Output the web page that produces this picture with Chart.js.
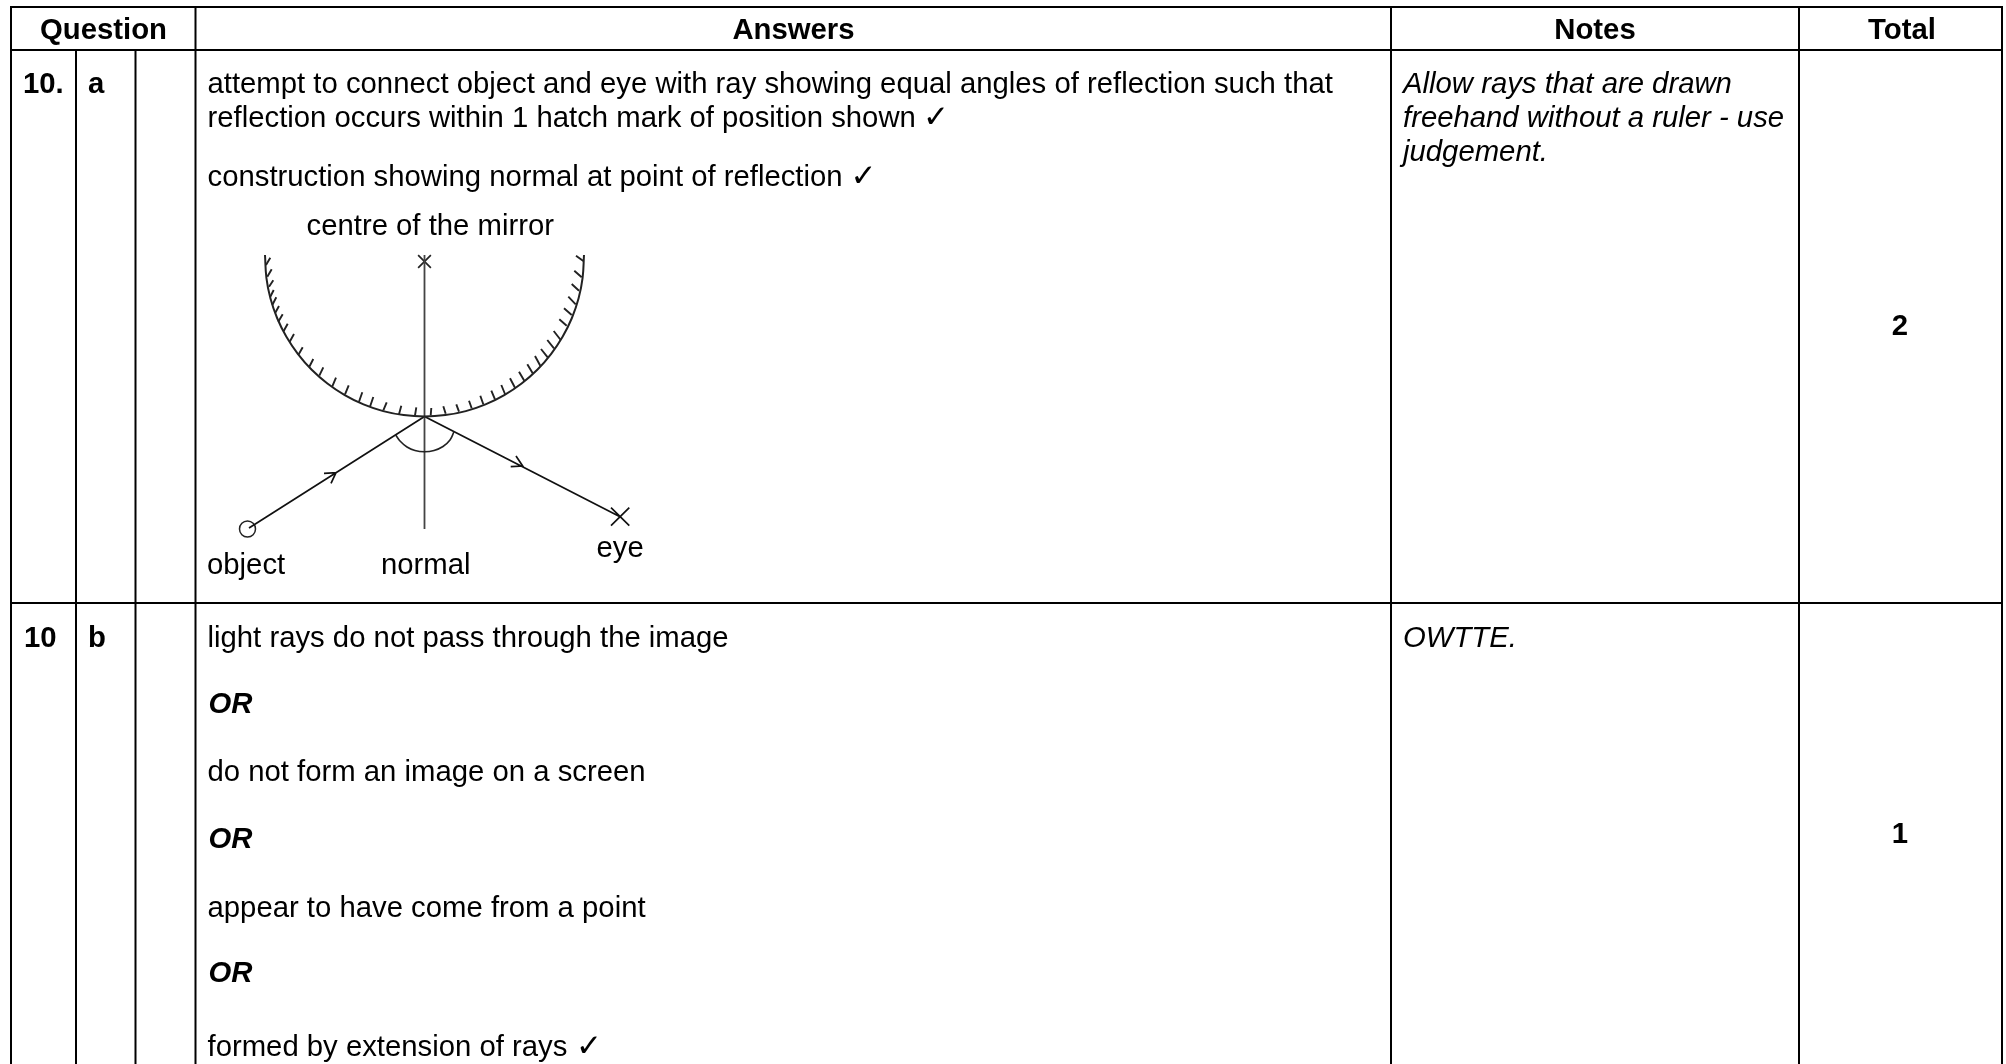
<!DOCTYPE html>
<html><head><meta charset="utf-8">
<style>html,body{margin:0;padding:0;background:#fff}canvas{display:block}</style>
<script src="https://cdn.jsdelivr.net/npm/chart.js@4"></script>
</head><body><canvas id="c" width="2006" height="1064"></canvas>
<script>
// Table rules: [x1,y1,x2,y2]
const tableRules=[[10,7,2003,7],[10,50,2003,50],[10,603,2003,603],
 [11,6,11,1064],[76,50,76,1064],[135.5,50,135.5,1064],[195.5,6,195.5,1064],[1391,6,1391,1064],[1799,6,1799,1064],[2002,6,2002,1064]];
// Mirror curve points
const mirrorArc=[[265,255],[266.4,277.8],[270.4,298.3],[277.1,318],[286.4,336.8],[298,354.1],[311.7,369.8],[327.4,383.5],[344.75,395.1],[363.5,404.4],[383.2,411.1],[403.7,415.1],[424.5,416.5],[445.3,415.1],[465.8,411.1],[485.5,404.4],[504.25,395.1],[521.6,383.5],[537.3,369.8],[551,354.1],[562.6,336.8],[571.9,318],[578.6,298.3],[582.6,277.8],[584,255]];
const angleArc=[[395.7,435],[400,441],[407,447],[415,450.5],[424.5,451.7],[434,450.5],[443,446.5],[450,440],[454,431.7]];
// Hatch marks on the mirror [baseX,baseY,tipX,tipY]
const hatches=[[266,265,270.3,257.7],[267.3,276.7,271.7,269.3],[269,286.7,273.3,280.3],[270.3,296.7,273.7,290],[272.3,305,276.3,297.3],[275,313.3,279,306],[278.3,321.7,282.7,314.3],[283.7,331,287.7,323.7],[289.7,341.7,294,334],[298.3,355,302.7,347.3],[309.3,366.7,313.3,359],[319.3,375.7,323.3,367.3],[332.3,386.3,336,377.7],[345,394.3,348.7,385.3],[359,401.7,362.3,392.3],[370,406.7,373.3,397],[383.3,410.3,386.7,402.3],[399,414.3,401.3,405.7],[415,415.3,416.3,407.3],
 [430.7,415.3,431.3,408],[445.7,413.7,443.3,406.3],[459,411.7,456.3,404.3],[471.7,408.3,469,400.7],[483.3,404.3,480.3,395.7],[495,399.3,491.3,390.7],[505,394,501.3,385],[515,387.7,510,378.3],[524.3,380.7,519,371.7],[532.7,373.3,527.3,364.3],[540.3,365.7,535,356],[547.7,357.3,541,349],[554,348.3,547.3,340],[560.7,340,553.7,331],[566.7,325.7,559.3,319.3],[571.7,315,564,308.3],[575.7,304.3,568.3,296.7],[579,290.7,571.7,284],[581.7,277.3,574.3,270.7],[583.3,261,576,255.7]];
// Rays, normal, arrowheads and eye cross as polylines
const normalLine=[[424.5,255],[424.5,529]];
const rayLines=[[[249,528],[424.5,416.5],[620,516.7]],[[611,525.7],[629.3,507.7]],[[611,507.7],[629.3,525.7]],[[324,473.3],[336,472.7],[331,483.3]],[[510.7,466.7],[522.7,466],[516,456]]];
const objectMark=[[247.5,529]];
const centreMark=[[424.5,261.5]];
// Text
const bodyFont='"Liberation Sans","DejaVu Sans"';
const bodySize=29.3;
const checkSize=31;
const headers=[["Question",103.5,39],["Answers",793.5,39],["Notes",1595,39],["Total",1902,39]];
const boldLabels=[["10.",23,93],["a",88,93],["10",24,647],["b",88,647]];
const totals=[["2",1900,335],["1",1900,843]];
const answerLines=[["attempt to connect object and eye with ray showing equal angles of reflection such that",207.5,93],["reflection occurs within 1 hatch mark of position shown",207.5,127],["construction showing normal at point of reflection",207.5,186],["light rays do not pass through the image",207.5,647],["do not form an image on a screen",207.5,781],["appear to have come from a point",207.5,917],["formed by extension of rays",207.5,1056]];
const checkMarks=[["✓",923,127],["✓",850.5,186],["✓",576,1056]];
const orLines=[["OR",208.5,712.5],["OR",208.5,847.5],["OR",208.5,982]];
const diagramLabels=[["centre of the mirror",306.5,235],["object",207,574],["normal",381,574],["eye",596.5,557]];
const noteLines=[["Allow rays that are drawn",1403,93],["freehand without a ruler - use",1403,127],["judgement.",1403,161],["OWTTE.",1403,647]];

const seg=a=>a.flatMap(r=>[{x:r[0],y:r[1]},{x:r[2],y:r[3]},{x:null,y:null}]);
const poly=a=>a.map(p=>({x:p[0],y:p[1]}));
const polys=a=>a.flatMap(l=>[...poly(l),{x:null,y:null}]);
const lineDs=(data,w,color,tension)=>({type:'line',data,borderColor:color,borderWidth:w,pointRadius:0,fill:false,tension:tension||0,spanGaps:false});

const textPlugin={id:'tableText',afterDatasetsDraw(chart){
 const c=chart.ctx,X=chart.scales.x,Y=chart.scales.y;
 const draw=(rows,font,align)=>{c.font=font;c.textAlign=align;c.textBaseline='alphabetic';c.fillStyle='#000';
  rows.forEach(r=>c.fillText(r[0],X.getPixelForValue(r[1]),Y.getPixelForValue(r[2])));};
 c.save();
 draw(headers,`bold ${bodySize}px ${bodyFont}`,'center');
 draw(boldLabels,`bold ${bodySize}px ${bodyFont}`,'left');
 draw(totals,`bold ${bodySize}px ${bodyFont}`,'center');
 draw(answerLines,`${bodySize}px ${bodyFont}`,'left');
 draw(checkMarks,`${checkSize}px "DejaVu Sans"`,'left');
 draw(orLines,`italic bold ${bodySize}px ${bodyFont}`,'left');
 draw(diagramLabels,`${bodySize}px ${bodyFont}`,'left');
 draw(noteLines,`italic ${bodySize}px ${bodyFont}`,'left');
 c.restore();
}};

new Chart(document.getElementById('c'),{
 type:'scatter',
 data:{datasets:[
  lineDs(seg(tableRules),2,'#000'),
  lineDs(poly(mirrorArc),2,'#222',0.4),
  lineDs(poly(angleArc),1.6,'#222',0.4),
  lineDs(seg(hatches),1.9,'#222'),
  lineDs(poly(normalLine),1.8,'#444'),
  lineDs(polys(rayLines),1.7,'#111'),
  {type:'scatter',data:poly(objectMark),pointStyle:'circle',pointRadius:8,pointBackgroundColor:'transparent',pointBorderColor:'#222',pointBorderWidth:1.5},
  {type:'scatter',data:poly(centreMark),pointStyle:'crossRot',pointRadius:9,pointBorderColor:'#222',pointBorderWidth:1.7}
 ]},
 options:{responsive:false,animation:false,events:[],
  layout:{padding:0,autoPadding:false},
  plugins:{legend:{display:false},tooltip:{enabled:false},title:{display:false}},
  scales:{x:{type:'linear',display:false,min:0,max:2006},y:{type:'linear',display:false,min:0,max:1064,reverse:true}}
 },
 plugins:[textPlugin]
});
</script></body></html>
